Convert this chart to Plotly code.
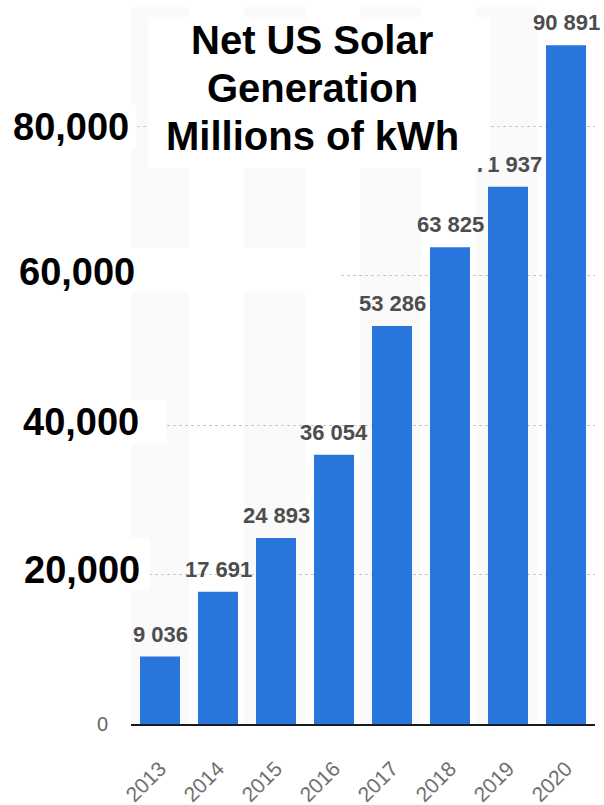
import plotly.graph_objects as go

# Net US solar generation, millions of kWh
years = ["2013", "2014", "2015", "2016", "2017", "2018", "2019", "2020"]
generation = [9036, 17691, 24893, 36054, 53286, 63825, 71937, 90891]

tick_values = [0, 20000, 40000, 60000, 80000]
tick_labels = ["0", "20,000", "40,000", "60,000", "80,000"]

title_lines = ["Net US Solar", "Generation", "Millions of kWh"]

W, H = 604, 805
L, R, T, B = 131, 9, 7, 81
PW, PH = W - L - R, H - T - B


def px_x(p):
    return (p - L) / PW


def px_y(p):
    return (H - B - p) / PH


BAR = "#2875dc"
LABEL_GREY = "#4d4d4d"
BIG_FONT = "Liberation Sans, Arial, sans-serif"

fig = go.Figure(
    go.Bar(
        x=years,
        y=generation,
        marker=dict(color=BAR, line=dict(width=0)),
        hoverinfo="x+y",
    )
)

shapes = []
# alternating shaded columns
for i in range(0, len(years), 2):
    shapes.append(dict(
        type="rect", xref="x", yref="paper",
        x0=i - 0.55, x1=i + 0.5, y0=0, y1=1,
        fillcolor="#fafafa", line=dict(width=0), layer="below",
    ))

# white panels behind the large axis labels
label_panels = [(0, 150, 538, 590), (0, 166, 400, 443), (0, 341, 248, 291), (0, 136, 105, 147)]
for x0, x1, y0, y1 in label_panels:
    shapes.append(dict(
        type="rect", xref="paper", yref="paper",
        x0=px_x(x0), x1=px_x(x1), y0=px_y(y1), y1=px_y(y0),
        fillcolor="white", line=dict(width=0), layer="above",
    ))

annotations = []
# value labels on top of each bar
for i, v in enumerate(generation):
    annotations.append(dict(
        x=i, y=v, xref="x", yref="y",
        text=f"{v:,}".replace(",", " "),
        showarrow=False, yanchor="bottom", yshift=8,
        font=dict(family=BIG_FONT, size=22, color=LABEL_GREY, weight="bold"),
    ))

# large y-axis labels (right edge in px, vertical nudge in px)
label_nudge = {20000: (142, 5), 40000: (141, 3), 60000: (137, 4), 80000: (131, 0)}
for val, txt in zip(tick_values[1:], tick_labels[1:]):
    right, dy = label_nudge[val]
    annotations.append(dict(
        x=px_x(right), y=val, xref="paper", yref="y",
        text=txt, showarrow=False, xanchor="right", yanchor="middle", yshift=dy,
        font=dict(family=BIG_FONT, size=38, color="black", weight="bold"),
    ))

# title panel: white box, then one annotation per line
annotations.append(dict(
    x=px_x(319), y=px_y(92.5), xref="paper", yref="paper",
    text=" ", showarrow=False,
    xanchor="center", yanchor="middle",
    width=342, height=151, bgcolor="white", borderpad=0, borderwidth=0,
    font=dict(size=10),
))
for line, cy in zip(title_lines, [40, 88, 136]):
    annotations.append(dict(
        x=px_x(312), y=px_y(cy), xref="paper", yref="paper",
        text=line, showarrow=False, xanchor="center", yanchor="middle",
        font=dict(family=BIG_FONT, size=40, color="black", weight="bold"),
    ))

fig.update_layout(
    width=W, height=H,
    margin=dict(l=L, r=R, t=T, b=B, pad=0),
    paper_bgcolor="white", plot_bgcolor="white",
    bargap=0.31,
    showlegend=False,
    shapes=shapes,
    annotations=annotations,
    xaxis=dict(
        type="category",
        categoryorder="array", categoryarray=years,
        range=[-0.5, len(years) - 0.5], autorange=False,
        automargin=False,
        showgrid=False,
        showline=True, linecolor="#1a1a1a", linewidth=2,
        ticks="", tickangle=-45,
        ticklabelstandoff=22,
        tickfont=dict(family=BIG_FONT, size=21, color="#707070"),
    ),
    yaxis=dict(
        range=[0, 96000], autorange=False,
        automargin=False,
        tickvals=tick_values,
        ticktext=[tick_labels[0]] + [""] * (len(tick_labels) - 1),
        showgrid=True, gridcolor="#c8c8c8", gridwidth=1, griddash="dot",
        zeroline=False, showline=False, ticks="",
        ticklabelstandoff=22,
        tickfont=dict(family=BIG_FONT, size=20, color="#666666"),
    ),
)

fig.write_html("out.html")
